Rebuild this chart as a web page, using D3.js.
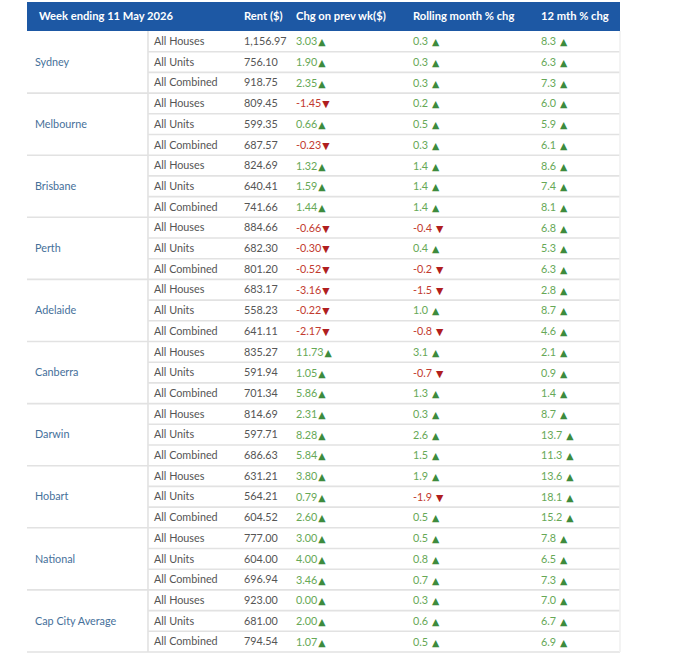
<!DOCTYPE html>
<html>
<head>
<meta charset="utf-8">
<script src="https://cdn.jsdelivr.net/npm/d3@7"></script>
<style>
  html, body { margin: 0; padding: 0; background: #ffffff; }
  svg { display: block; }
</style>
</head>
<body>
<div id="chart"></div>
<script>
// ---- data ----
const title = "Week ending 11 May 2026";
const headers = ["Rent ($)", "Chg on prev wk($)", "Rolling month % chg", "12 mth % chg"];
const cities = ["Sydney", "Melbourne", "Brisbane", "Perth", "Adelaide", "Canberra", "Darwin", "Hobart", "National", "Cap City Average"];
const categories = ["All Houses", "All Units", "All Combined"];
const rent = [
  "1,156.97", "756.10", "918.75",
  "809.45", "599.35", "687.57",
  "824.69", "640.41", "741.66",
  "884.66", "682.30", "801.20",
  "683.17", "558.23", "641.11",
  "835.27", "591.94", "701.34",
  "814.69", "597.71", "686.63",
  "631.21", "564.21", "604.52",
  "777.00", "604.00", "696.94",
  "923.00", "681.00", "794.54"
];
const chgWeek = [
  "3.03", "1.90", "2.35",
  "-1.45", "0.66", "-0.23",
  "1.32", "1.59", "1.44",
  "-0.66", "-0.30", "-0.52",
  "-3.16", "-0.22", "-2.17",
  "11.73", "1.05", "5.86",
  "2.31", "8.28", "5.84",
  "3.80", "0.79", "2.60",
  "3.00", "4.00", "3.46",
  "0.00", "2.00", "1.07"
];
const rollingMonth = [
  "0.3", "0.3", "0.3",
  "0.2", "0.5", "0.3",
  "1.4", "1.4", "1.4",
  "-0.4", "0.4", "-0.2",
  "-1.5", "1.0", "-0.8",
  "3.1", "-0.7", "1.3",
  "0.3", "2.6", "1.5",
  "1.9", "-1.9", "0.5",
  "0.5", "0.8", "0.7",
  "0.3", "0.6", "0.5"
];
const annual = [
  "8.3", "6.3", "7.3",
  "6.0", "5.9", "6.1",
  "8.6", "7.4", "8.1",
  "6.8", "5.3", "6.3",
  "2.8", "8.7", "4.6",
  "2.1", "0.9", "1.4",
  "8.7", "13.7", "11.3",
  "13.6", "18.1", "15.2",
  "7.8", "6.5", "7.3",
  "7.0", "6.7", "6.9"
];

// ---- layout ----
const W = 680, H = 664;
const left = 27, right = 620, headTop = 2, headBottom = 31, tableBottom = 652, splitX = 148;
const font = "Lato, 'Open Sans', sans-serif";

const rowCount = cities.length * categories.length;
const y = d3.scaleBand().domain(d3.range(rowCount)).range([headBottom, tableBottom]);
const colKeys = ["city", "cat", "rent", "chg", "roll", "ann"];
const x = d3.scaleOrdinal().domain(colKeys).range([35, 154, 244, 296, 413, 541]);

const svg = d3.select("#chart").append("svg").attr("width", W).attr("height", H);

// header
svg.append("rect").attr("x", left).attr("y", headTop).attr("width", right - left).attr("height", headBottom - headTop).attr("fill", "#1d58a4");
const headY = (headTop + headBottom) / 2 + 1;
const hdr = svg.append("g").attr("font-family", font).attr("font-size", 11.2).attr("font-weight", 700).attr("fill", "#ffffff");
hdr.append("text").attr("x", 39).attr("y", headY).attr("dominant-baseline", "middle").text(title);
hdr.selectAll("text.h").data(headers).join("text").attr("class", "h")
  .attr("x", (d, i) => x(colKeys[i + 2])).attr("y", headY).attr("dominant-baseline", "middle").text(d => d);

// grid lines
const grid = svg.append("g").attr("stroke", "#e2e2e2").attr("stroke-width", 1.6);
d3.range(1, rowCount + 1).forEach(i => {
  const yy = i === rowCount ? tableBottom : y(i);
  const isGroup = i % categories.length === 0;
  grid.append("line").attr("x1", isGroup ? left : splitX).attr("x2", right).attr("y1", yy).attr("y2", yy);
});
grid.append("line").attr("x1", splitX).attr("x2", splitX).attr("y1", headBottom).attr("y2", tableBottom);
grid.append("line").attr("x1", right).attr("x2", right).attr("y1", headBottom).attr("y2", tableBottom).attr("stroke", "#f0f0f0");

// city labels
svg.append("g").selectAll("text").data(cities).join("text")
  .attr("x", x("city"))
  .attr("y", (d, i) => y(i * 3) + y.bandwidth() * 1.5 + 1)
  .attr("dominant-baseline", "middle")
  .attr("font-family", font).attr("font-size", 10.8).attr("fill", "#46709a")
  .text(d => d);

const rows = d3.range(rowCount).map(i => ({
  i, cat: categories[i % 3], rent: rent[i], chg: chgWeek[i], roll: rollingMonth[i], ann: annual[i]
}));

const body = svg.append("g").attr("font-family", font).attr("font-size", 10.8);
const rowG = body.selectAll("g.row").data(rows).join("g").attr("class", "row")
  .attr("transform", d => `translate(0,${y(d.i) + y.bandwidth() / 2 + 1})`);

rowG.append("text").attr("x", x("cat")).attr("dominant-baseline", "middle").attr("fill", "#555").text(d => d.cat);
rowG.append("text").attr("x", x("rent")).attr("dominant-baseline", "middle").attr("fill", "#555").text(d => d.rent);

function changeCell(key, gap) {
  const t = rowG.append("text").attr("x", x(key)).attr("dominant-baseline", "middle");
  t.append("tspan").attr("fill", d => +d[key] < 0 ? "#c23b30" : "#66a856").text(d => d[key]);
  t.append("tspan").attr("dx", gap).attr("font-family", "DejaVu Sans").attr("font-size", 9.5)
    .attr("fill", d => +d[key] < 0 ? "#b01e1e" : "#3d8b3d")
    .text(d => +d[key] < 0 ? "▼" : "▲");
}
changeCell("chg", 1);
changeCell("roll", 4);
changeCell("ann", 4);
</script>
</body>
</html>
